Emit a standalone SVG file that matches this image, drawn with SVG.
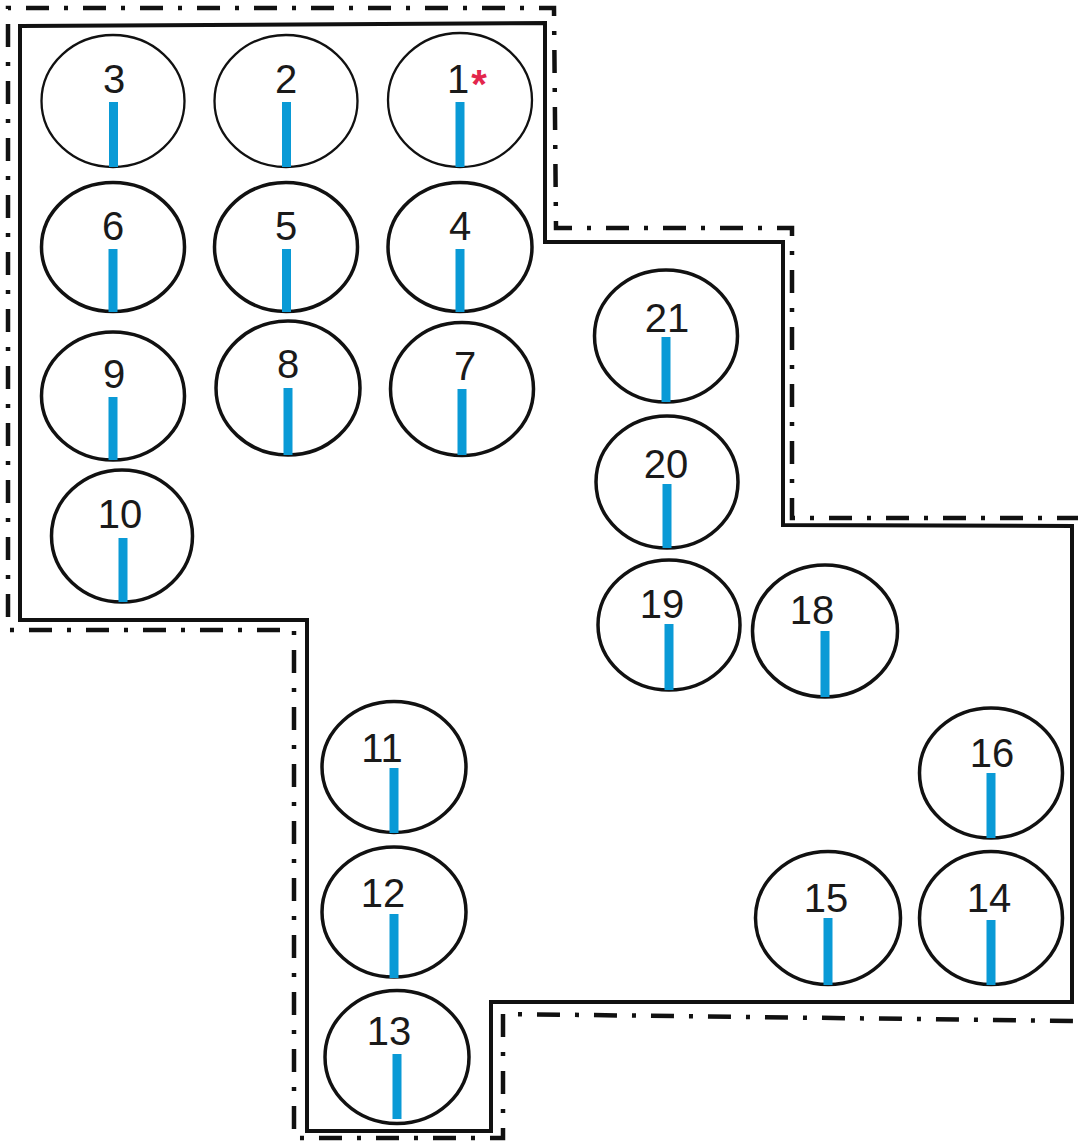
<svg xmlns="http://www.w3.org/2000/svg" width="1078" height="1144" viewBox="0 0 1078 1144">
<style>
.bound{fill:none;stroke:#111;stroke-width:4;stroke-linejoin:miter}
.dd{fill:none;stroke:#111;stroke-width:4.5;stroke-dasharray:23 15 4 15}
.c{fill:none;stroke:#111;stroke-width:3.5}
.ct{fill:none;stroke:#111;stroke-width:2.3}
.bar{fill:#0A9AD6}
.lbl{font-family:"Liberation Sans",Arial,sans-serif;font-size:40px;fill:#1a1a1a;text-anchor:middle}
.star{fill:#E3264C;font-weight:bold}
</style>
<rect width="1078" height="1144" fill="#ffffff"/>
<g id="boundaries">
<path class="dd" d="M1080,518 L792,518 L792,228 L556,228 L554,8 L8,8 L8,630 L294,630 L294,1138 L503,1138 L503,1014 L1080,1021"/>
<path class="bound" d="M20,26 L545,23 L545,242 L783,242 L783,525 L1072,526 L1072,1002 L491,1002 L491,1131 L307,1131 L307,620 L20,620 Z"/>
</g>
<g id="n3"><ellipse class="ct" cx="113" cy="101" rx="71.5" ry="66"/><rect class="bar" x="109" y="102" width="9" height="65"/><text class="lbl" x="114" y="93">3</text></g>
<g id="n2"><ellipse class="ct" cx="286" cy="101" rx="71.5" ry="66"/><rect class="bar" x="282" y="102" width="9" height="65"/><text class="lbl" x="286" y="93">2</text></g>
<g id="n1"><ellipse class="ct" cx="460" cy="100" rx="72" ry="67"/><rect class="bar" x="455.5" y="102" width="9" height="65"/><text class="lbl" x="458" y="93">1</text><text class="lbl star" x="479" y="98" font-size="44">*</text></g>
<g id="n6"><ellipse class="c" cx="113" cy="247" rx="71.5" ry="64.5"/><rect class="bar" x="108.5" y="249" width="9" height="63"/><text class="lbl" x="113" y="240">6</text></g>
<g id="n5"><ellipse class="c" cx="286" cy="247" rx="71.5" ry="64.5"/><rect class="bar" x="282" y="249" width="9" height="63"/><text class="lbl" x="286" y="240">5</text></g>
<g id="n4"><ellipse class="c" cx="460" cy="247" rx="72" ry="64.5"/><rect class="bar" x="455.5" y="249" width="9" height="63"/><text class="lbl" x="460" y="240">4</text></g>
<g id="n9"><ellipse class="c" cx="113" cy="396" rx="71.5" ry="64"/><rect class="bar" x="108.5" y="397" width="9" height="63"/><text class="lbl" x="114" y="388">9</text></g>
<g id="n8"><ellipse class="c" cx="288" cy="388" rx="72" ry="67"/><rect class="bar" x="283.5" y="388" width="9" height="67"/><text class="lbl" x="288" y="378">8</text></g>
<g id="n7"><ellipse class="c" cx="462" cy="389" rx="71.5" ry="66.5"/><rect class="bar" x="457.5" y="389" width="9" height="66"/><text class="lbl" x="465" y="380">7</text></g>
<g id="n10"><ellipse class="c" cx="122" cy="536" rx="70.5" ry="66"/><rect class="bar" x="118.5" y="538" width="9" height="64"/><text class="lbl" x="120" y="528">10</text></g>
<g id="n21"><ellipse class="c" cx="666" cy="336" rx="71.5" ry="66"/><rect class="bar" x="661.5" y="337" width="9" height="65"/><text class="lbl" x="667" y="332">21</text></g>
<g id="n20"><ellipse class="c" cx="667" cy="482" rx="71" ry="66"/><rect class="bar" x="662.5" y="484" width="9" height="64"/><text class="lbl" x="666" y="478">20</text></g>
<g id="n19"><ellipse class="c" cx="669" cy="625" rx="71" ry="65"/><rect class="bar" x="664.5" y="624" width="9" height="66"/><text class="lbl" x="662" y="618">19</text></g>
<g id="n18"><ellipse class="c" cx="825" cy="631" rx="72.5" ry="66"/><rect class="bar" x="820.5" y="631" width="9" height="66"/><text class="lbl" x="812" y="624">18</text></g>
<g id="n11"><ellipse class="c" cx="394" cy="767" rx="72" ry="65.5"/><rect class="bar" x="389.5" y="768" width="9" height="65"/><text class="lbl" x="382" y="762">11</text></g>
<g id="n12"><ellipse class="c" cx="394" cy="912" rx="72" ry="65"/><rect class="bar" x="389.5" y="914" width="9" height="64"/><text class="lbl" x="383" y="907">12</text></g>
<g id="n13"><ellipse class="c" cx="397" cy="1057" rx="72" ry="66.5"/><rect class="bar" x="392.5" y="1054" width="9" height="65"/><text class="lbl" x="389" y="1045">13</text></g>
<g id="n16"><ellipse class="c" cx="991" cy="773" rx="71.5" ry="65"/><rect class="bar" x="986.5" y="773" width="9" height="65"/><text class="lbl" x="992" y="767">16</text></g>
<g id="n15"><ellipse class="c" cx="828" cy="918" rx="72.5" ry="66.5"/><rect class="bar" x="823.5" y="918" width="9" height="67"/><text class="lbl" x="826" y="912">15</text></g>
<g id="n14"><ellipse class="c" cx="991" cy="918" rx="71.5" ry="66.5"/><rect class="bar" x="986.5" y="920" width="9" height="65"/><text class="lbl" x="989" y="912">14</text></g>
</svg>
